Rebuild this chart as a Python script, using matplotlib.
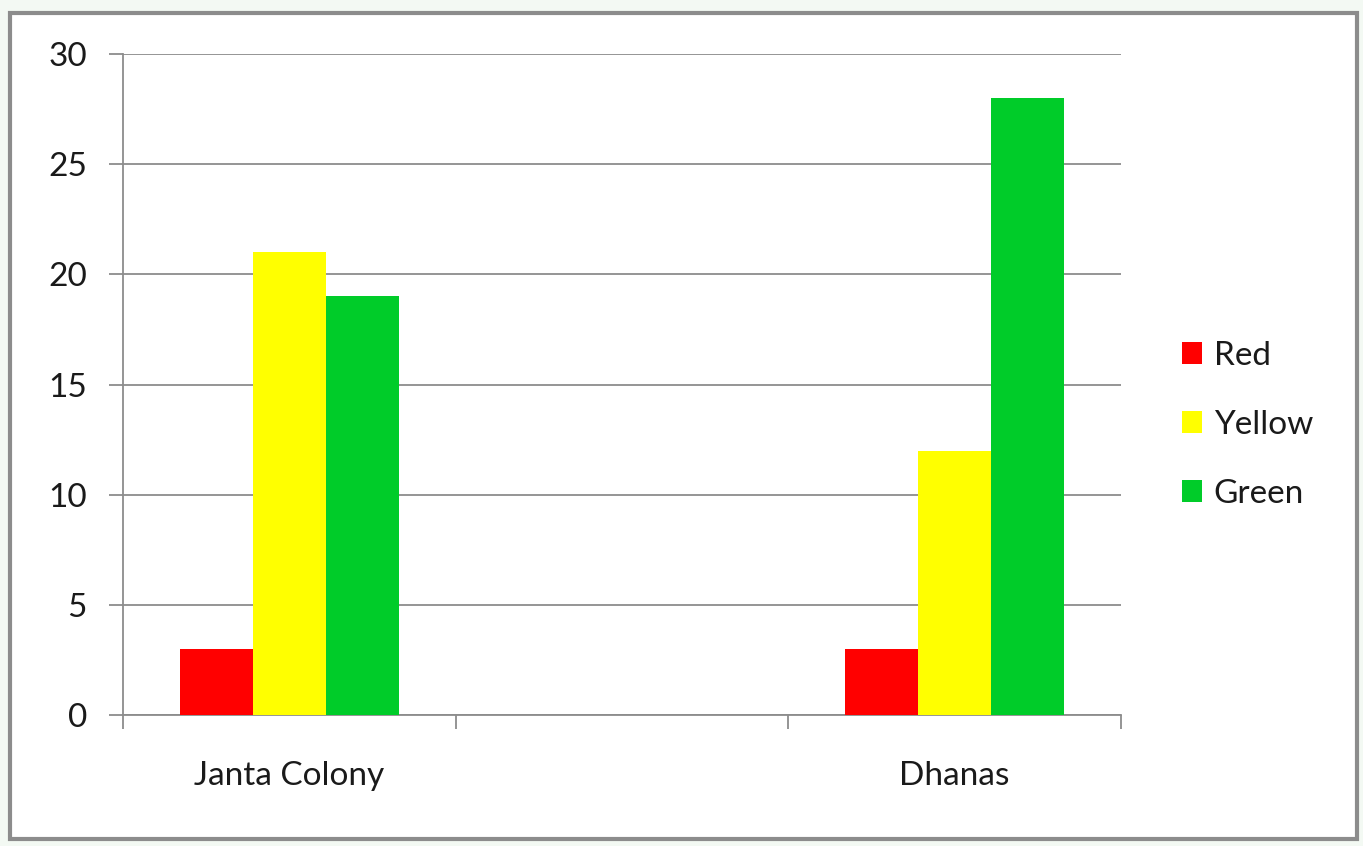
import matplotlib

matplotlib.use("Agg")
import matplotlib.pyplot as plt
from matplotlib.patches import Rectangle

plt.rcParams.update({"font.family": ["Lato", "DejaVu Sans"], "font.size": 24})

CATEGORIES = ["Janta Colony", "", "Dhanas"]
SERIES = ["Red", "Yellow", "Green"]
VALUES = {
    "Red": [3, None, 3],
    "Yellow": [21, None, 12],
    "Green": [19, None, 28],
}
COLORS = {"Red": "#ff0000", "Yellow": "#ffff00", "Green": "#00cc29"}
Y_TICKS = [0, 5, 10, 15, 20, 25, 30]

W, H = 1363, 846
fig = plt.figure(figsize=(W / 100, H / 100), dpi=100)
fig.patch.set_facecolor("#f3f9f3")
# chart area border
fig.patches.append(Rectangle((10 / W, 7 / H), 1347 / W, 826 / H, transform=fig.transFigure,
                             facecolor="white", edgecolor="#8c8c8c", lw=3, zorder=-5))

ax = fig.add_axes([123 / W, 1 - 715 / H, (1121 - 123) / W, (715 - 54) / H])
ax.set_facecolor("none")

width = 0.22
xs = range(len(CATEGORIES))
for j, name in enumerate(SERIES):
    px, py = [], []
    for x, v in zip(xs, VALUES[name]):
        if v is not None:
            px.append(x + (j - 1) * width)
            py.append(v)
    ax.bar(px, py, width, color=COLORS[name], label=name, zorder=3)

ax.set_xlim(-0.5, len(CATEGORIES) - 0.5)
ax.set_ylim(0, 30)
ax.set_yticks(Y_TICKS)
ax.yaxis.grid(True, color="#8c8c8c", lw=1.3)
ax.set_axisbelow(True)

# category labels between boundary ticks
ax.set_xticks([i - 0.5 for i in range(len(CATEGORIES) + 1)])
ax.set_xticklabels([])
ax.set_xticks(list(xs), minor=True)
ax.set_xticklabels(CATEGORIES, minor=True)
ax.tick_params(axis="x", which="major", direction="out", length=10, width=1.3, color="#8c8c8c")
ax.tick_params(axis="x", which="minor", length=0, pad=33, labelsize=24, labelcolor="#1a1a1a")
ax.tick_params(axis="y", direction="out", length=10, width=1.3, color="#8c8c8c", pad=16,
               labelsize=24, labelcolor="#1a1a1a")

for side in ("top", "right"):
    ax.spines[side].set_visible(False)
for side in ("left", "bottom"):
    ax.spines[side].set_color("#8c8c8c")
    ax.spines[side].set_linewidth(1.3)

ax.legend(loc="center left", bbox_to_anchor=(1.061, 0.439), frameon=False, fontsize=24,
          borderpad=0, borderaxespad=0, handlelength=0.6, handleheight=0.6,
          handletextpad=0.35, labelspacing=1.17, labelcolor="#1a1a1a")

fig.savefig("out.png", dpi=100)
